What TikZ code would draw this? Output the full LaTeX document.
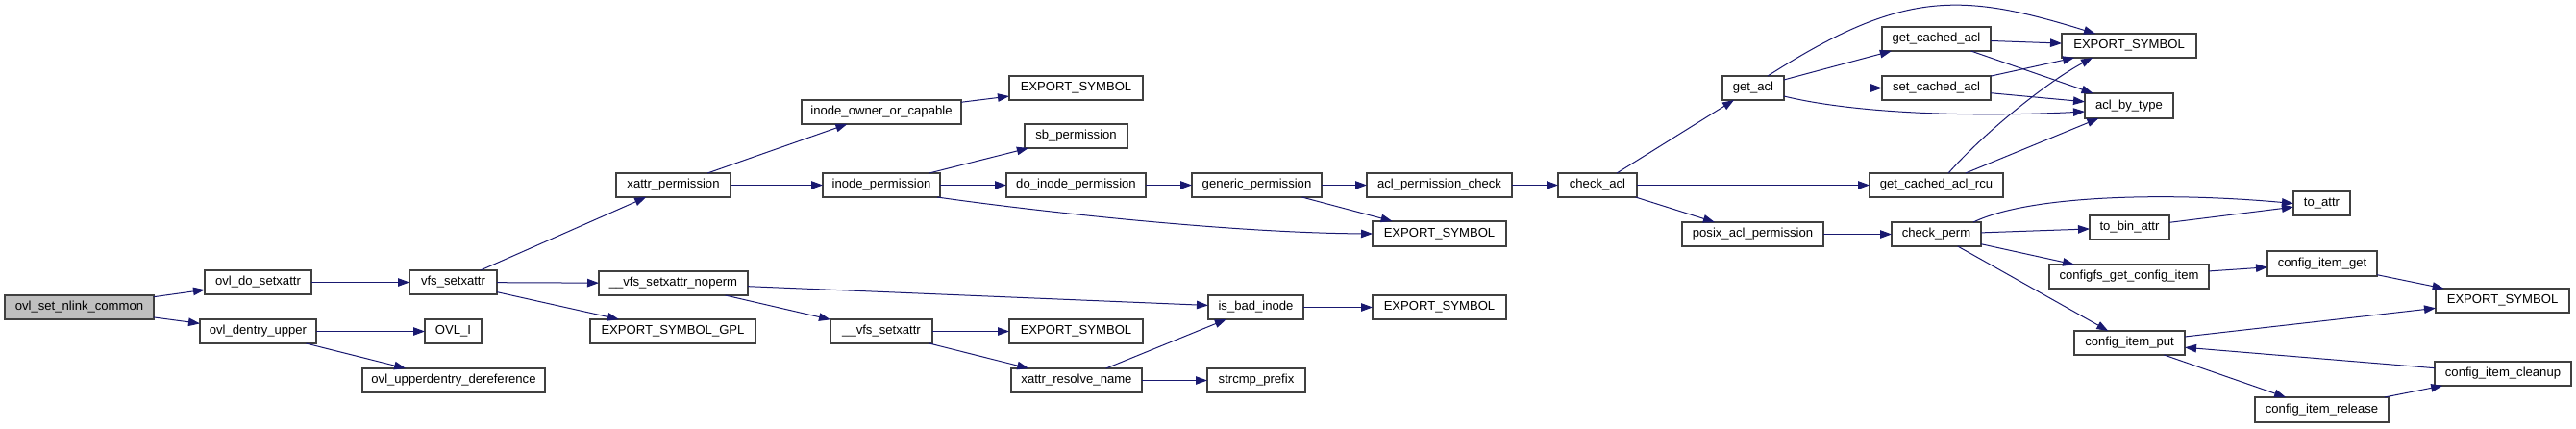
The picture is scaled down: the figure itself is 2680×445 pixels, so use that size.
\documentclass[tikz,border=0pt]{standalone}
\usepackage{fontspec}
\setmainfont{Liberation Sans}
\usetikzlibrary{arrows.meta,calc}
\definecolor{edgec}{HTML}{191970}
\definecolor{rootfill}{HTML}{BFBFBF}
\definecolor{boxline}{HTML}{404040}
\tikzset{
  nbox/.style={draw=boxline, line width=1.3pt, fill=white, rectangle, inner sep=0pt, outer sep=0pt,
    text height=9.5pt, text depth=2.7pt, font=\fontsize{13.1}{15}\selectfont},
  callarrow/.style={draw=edgec, line width=1pt, -{Triangle[length=12pt,width=8.5pt]}},
}
\newcommand{\bx}[7][]{%
  \pgfmathsetmacro\dxw{#5-#3}\pgfmathsetmacro\dxh{#6-#4}%
  \node[nbox,#1,minimum width=\dxw pt,minimum height=\dxh pt] (#2) at ({(#3+#5)/2},{(#4+#6)/2}) {#7};}
\begin{document}
\begin{tikzpicture}[x=1pt,y=-1pt]
\useasboundingbox (0,0) rectangle (2680,445);
% nodes
\bx[fill=rootfill]{root}{5}{307}{160}{332}{ovl\_set\_nlink\_common}
\bx{odo}{213}{281}{324}{306}{ovl\_do\_setxattr}
\bx{vfs}{426}{281}{517}{306}{vfs\_setxattr}
\bx{odu}{208}{332}{329}{357}{ovl\_dentry\_upper}
\bx{ovli}{442}{332}{501}{357}{OVL\_I}
\bx{oud}{377}{383}{567}{408}{ovl\_upperdentry\_dereference}
\bx{xp}{641}{180}{760}{205}{xattr\_permission}
\bx{ioc}{834}{104}{1000}{129}{inode\_owner\_or\_capable}
\bx{ip}{856}{180}{978}{205}{inode\_permission}
\bx{vsn}{623}{282}{778}{307}{\_\_vfs\_setxattr\_noperm}
\bx{esg}{614}{332}{786}{357}{EXPORT\_SYMBOL\_GPL}
\bx{vs}{864}{332}{970}{357}{\_\_vfs\_setxattr}
\bx{esa}{1050}{79}{1189}{104}{EXPORT\_SYMBOL}
\bx{sbp}{1066}{129}{1173}{154}{sb\_permission}
\bx{dip}{1047}{180}{1192}{205}{do\_inode\_permission}
\bx{gp}{1240}{180}{1375}{205}{generic\_permission}
\bx{apc}{1422}{180}{1573}{205}{acl\_permission\_check}
\bx{esb}{1428}{230}{1567}{256}{EXPORT\_SYMBOL}
\bx{ibi}{1257}{307}{1356}{332}{is\_bad\_inode}
\bx{esc}{1428}{307}{1567}{332}{EXPORT\_SYMBOL}
\bx{esd}{1050}{332}{1189}{357}{EXPORT\_SYMBOL}
\bx{xrn}{1052}{383}{1188}{408}{xattr\_resolve\_name}
\bx{scp}{1256}{383}{1358}{408}{strcmp\_prefix}
\bx{ca}{1621}{180}{1703}{205}{check\_acl}
\bx{ga}{1792}{79}{1856}{104}{get\_acl}
\bx{gca}{1958}{28}{2071}{53}{get\_cached\_acl}
\bx{sca}{1958}{79}{2071}{104}{set\_cached\_acl}
\bx{gcar}{1945}{180}{2084}{205}{get\_cached\_acl\_rcu}
\bx{pap}{1750}{231}{1897}{256}{posix\_acl\_permission}
\bx{cp}{1968}{231}{2061}{256}{check\_perm}
\bx{ese}{2145}{35}{2285}{60}{EXPORT\_SYMBOL}
\bx{aby}{2169}{97}{2261}{123}{acl\_by\_type}
\bx{ta}{2386}{199}{2445}{224}{to\_attr}
\bx{tba}{2174}{224}{2257}{249}{to\_bin\_attr}
\bx{cgci}{2132}{275}{2298}{300}{configfs\_get\_config\_item}
\bx{cig}{2359}{261}{2473}{287}{config\_item\_get}
\bx{esf}{2534}{300}{2673}{325}{EXPORT\_SYMBOL}
\bx{cip}{2158}{344}{2273}{369}{config\_item\_put}
\bx{cic}{2533}{376}{2675}{401}{config\_item\_cleanup}
\bx{cir}{2346}{413}{2485}{439}{config\_item\_release}
% edges
\draw[callarrow] (root) -- (odo);
\draw[callarrow] (root) -- (odu);
\draw[callarrow] (odo) -- (vfs);
\draw[callarrow] (odu) -- (ovli);
\draw[callarrow] (odu) -- (oud);
\draw[callarrow] (vfs) -- (xp);
\draw[callarrow] (vfs) -- (vsn);
\draw[callarrow] (vfs) -- (esg);
\draw[callarrow] (xp) -- (ioc);
\draw[callarrow] (xp) -- (ip);
\draw[callarrow] (ioc) -- (esa);
\draw[callarrow] (ip) -- (sbp);
\draw[callarrow] (ip) -- (dip);
\draw[callarrow] ($(ip.south east)+(-3,0)$) .. controls (1080,220) and (1280,242) .. (esb.west);
\draw[callarrow] (dip) -- (gp);
\draw[callarrow] (gp) -- (apc);
\draw[callarrow] (gp) -- (esb);
\draw[callarrow] (apc) -- (ca);
\draw[callarrow] (vsn) -- (ibi);
\draw[callarrow] (vsn) -- (vs);
\draw[callarrow] (vs) -- (esd);
\draw[callarrow] (vs) -- (xrn);
\draw[callarrow] (xrn) -- (ibi);
\draw[callarrow] (xrn) -- (scp);
\draw[callarrow] (ibi) -- (esc);
\draw[callarrow] (ca) -- (ga);
\draw[callarrow] (ca) -- (gcar);
\draw[callarrow] (ca) -- (pap);
\draw[callarrow] (ga) -- (gca);
\draw[callarrow] (ga) -- (sca);
\draw[callarrow] ($(ga.north)+(15,0)$) .. controls (1979,-10.6) and (2040,-8.4) .. ($(ese.north)+(-35,0)$);
\draw[callarrow] ($(ga.east)+(0,8.5)$) .. controls (1930,118) and (2050,122) .. ($(aby.west)+(0,6)$);
\draw[callarrow] (gca) -- (ese);
\draw[callarrow] (gca) -- (aby);
\draw[callarrow] (sca) -- (ese);
\draw[callarrow] (sca) -- (aby);
\draw[callarrow] ($(gcar.north)+(12.5,0)$) .. controls (2067,135) and (2132,84) .. ($(ese.south)+(-38,0)$);
\draw[callarrow] (gcar) -- (aby);
\draw[callarrow] (pap) -- (cp);
\draw[callarrow] ($(cp.north)+(38.5,0)$) .. controls (2113,202) and (2260,200) .. (ta.west);
\draw[callarrow] (cp) -- (tba);
\draw[callarrow] (cp) -- (cgci);
\draw[callarrow] (cp) -- (cip);
\draw[callarrow] (tba) -- (ta);
\draw[callarrow] (cgci) -- (cig);
\draw[callarrow] (cig) -- (esf);
\draw[callarrow] (cip) -- (esf);
\draw[callarrow] (cip) -- (cir);
\draw[callarrow] (cir) -- (cic);
\draw[callarrow] (cic) -- (cip);
\end{tikzpicture}
\end{document}
